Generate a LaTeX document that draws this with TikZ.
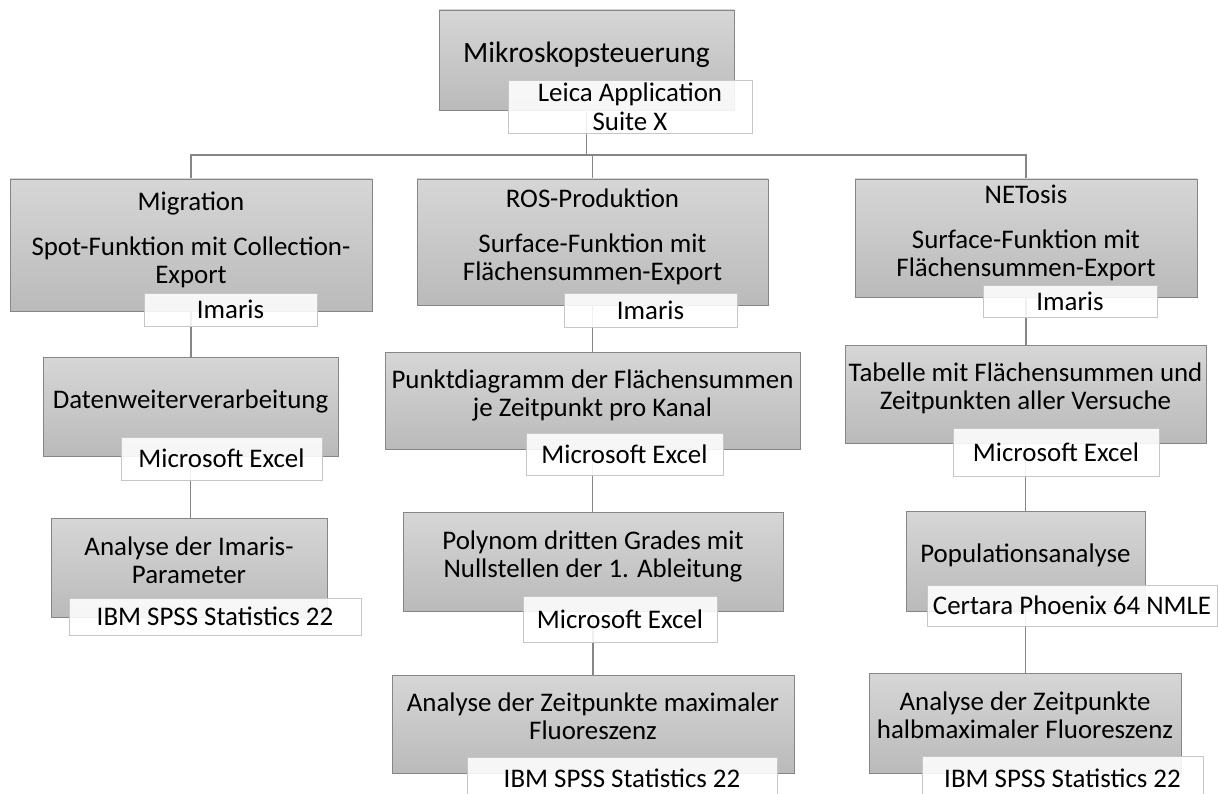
\documentclass[tikz,border=0pt]{standalone}
\usepackage{fontspec}
\setmainfont{Carlito}
\usetikzlibrary{backgrounds}

\tikzset{
	TaskStyle/.style = {draw=gray!95,top color=gray!32,bottom color=gray!54,shape=rectangle,inner sep=2pt,align=center,font=\fontsize{15.3}{16}\selectfont,text depth=8.5pt},
	ToolStyle/.style = {draw=gray!45,fill=white,fill opacity=0.88,text opacity=1,shape=rectangle,inner sep=0pt,align=center,font=\fontsize{15.3}{16.5}\selectfont},
	LinkStyle/.style = {draw=gray!95,line width=1.1pt}
}

\begin{document}
\begin{tikzpicture}
	\useasboundingbox (0,0) rectangle (24.36,-15.88);
	% Kopf
	\node[TaskStyle,minimum width=5.90cm,minimum height=2.00cm,font=\fontsize{16.8}{18}\selectfont] (steuer) at (11.73,-1.20) {Mikroskopsteuerung};
	\node[ToolStyle,minimum width=4.88cm,minimum height=1.06cm] (leica) at (12.60,-2.13) {Leica Application\\Suite X};
	\coordinate (bus) at (0,-3.10);
	% Migration
	{
		\tikzset{TaskStyle/.append style = {minimum height=1.98cm}}
		\node[TaskStyle,minimum width=7.24cm,minimum height=2.64cm] (mig) at (3.82,-4.90) {Migration\\[9.5pt]Spot-Funktion mit Collection-\\Export};
		\node[TaskStyle,minimum width=5.90cm] (daten) at (3.81,-8.13) {Datenweiterverarbeitung};
		\node[TaskStyle,minimum width=5.52cm] (anamig) at (3.78,-11.35) {Analyse der Imaris-\\Parameter};
	}
	\node[ToolStyle,minimum width=3.46cm,minimum height=0.66cm] (imamig) at (4.61,-6.19) {Imaris};
	\node[ToolStyle,minimum width=4.02cm,minimum height=0.86cm] (xlmig) at (4.43,-9.17) {Microsoft Excel};
	\node[ToolStyle,minimum width=5.84cm,minimum height=0.74cm] (spssmig) at (4.30,-12.33) {IBM SPSS Statistics 22};
	% ROS-Produktion
	{
		\tikzset{TaskStyle/.append style = {minimum height=1.96cm}}
		\node[TaskStyle,minimum width=7.02cm,minimum height=2.52cm] (ros) at (11.85,-4.84) {ROS-Produktion\\[9.5pt]Surface-Funktion mit\\Flächensummen-Export};
		\node[TaskStyle,minimum width=8.30cm,minimum height=1.94cm] (punkt) at (11.85,-8.01) {Punktdiagramm der Flächensummen\\je Zeitpunkt pro Kanal};
		\node[TaskStyle,minimum width=7.60cm,minimum height=1.98cm] (poly) at (11.86,-11.23) {Polynom dritten Grades mit\\Nullstellen der 1. Ableitung};
		\node[TaskStyle,minimum width=8.04cm] (anaros) at (11.86,-14.48) {Analyse der Zeitpunkte maximaler\\Fluoreszenz};
	}
	\node[ToolStyle,minimum width=3.46cm,minimum height=0.68cm] (imaros) at (13.01,-6.20) {Imaris};
	\node[ToolStyle,minimum width=3.94cm,minimum height=0.84cm] (xlpunkt) at (12.49,-9.08) {Microsoft Excel};
	\node[ToolStyle,minimum width=3.88cm,minimum height=0.92cm] (xlpoly) at (12.40,-12.38) {Microsoft Excel};
	\node[ToolStyle,minimum width=6.20cm,minimum height=0.86cm] (spssros) at (12.44,-15.57) {IBM SPSS Statistics 22};
	% NETosis
	{
		\tikzset{TaskStyle/.append style = {minimum height=1.98cm}}
		\node[TaskStyle,minimum width=6.84cm,minimum height=2.36cm] (net) at (20.52,-4.76) {NETosis\\[9.5pt]Surface-Funktion mit\\Flächensummen-Export};
		\node[TaskStyle,minimum width=7.18cm,minimum height=1.96cm] (tab) at (20.51,-7.88) {Tabelle mit Flächensummen und\\Zeitpunkten aller Versuche};
		\node[TaskStyle,minimum width=4.78cm,minimum height=2.00cm] (pop) at (20.51,-11.22) {Populationsanalyse};
		\node[TaskStyle,minimum width=6.24cm,minimum height=2.00cm] (ananet) at (20.50,-14.46) {Analyse der Zeitpunkte\\halbmaximaler Fluoreszenz};
	}
	\node[ToolStyle,minimum width=3.48cm,minimum height=0.64cm] (imanet) at (21.40,-6.02) {Imaris};
	\node[ToolStyle,minimum width=4.12cm,minimum height=0.96cm] (xltab) at (21.12,-9.04) {Microsoft Excel};
	\node[ToolStyle,minimum width=5.80cm,minimum height=0.82cm] (certara) at (21.44,-12.11) {Certara Phoenix 64 NMLE};
	\node[ToolStyle,minimum width=5.62cm,minimum height=0.88cm] (spssnet) at (21.25,-15.56) {IBM SPSS Statistics 22};
	% Verbindungen
	\begin{pgfonlayer}{background}
		\draw[LinkStyle] (steuer.south) -- (steuer.south |- bus);
		\draw[LinkStyle] (mig.north) -- (mig.north |- bus) -- (net.north |- bus) -- (net.north);
		\draw[LinkStyle] (ros.north) -- (ros.north |- bus);
		\draw[LinkStyle] (mig.south) -- (mig.south |- daten.north);
		\draw[LinkStyle] (daten.south) -- (daten.south |- anamig.north);
		\draw[LinkStyle] (ros.south) -- (ros.south |- punkt.north);
		\draw[LinkStyle] (punkt.south) -- (punkt.south |- poly.north);
		\draw[LinkStyle] (poly.south) -- (poly.south |- anaros.north);
		\draw[LinkStyle] (net.south) -- (net.south |- tab.north);
		\draw[LinkStyle] (tab.south) -- (tab.south |- pop.north);
		\draw[LinkStyle] (pop.south) -- (pop.south |- ananet.north);
	\end{pgfonlayer}
\end{tikzpicture}
\end{document}
